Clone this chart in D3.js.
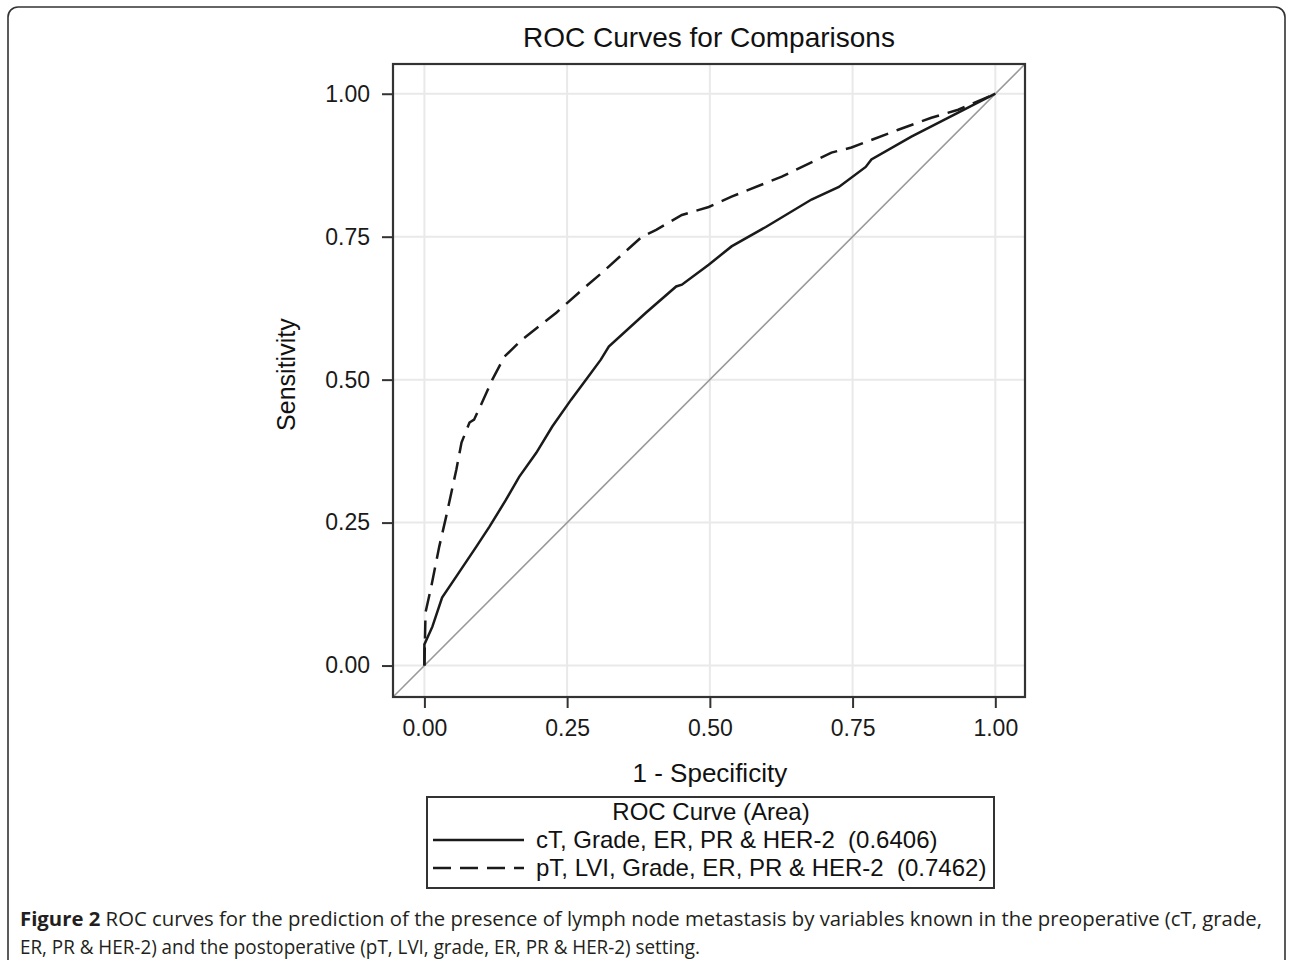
<!DOCTYPE html>
<html>
<head>
<meta charset="utf-8">
<script src="https://cdn.jsdelivr.net/npm/d3@7"></script>
<style>
  body { margin: 0; background: #fff; }
  svg { display: block; }
  .tick text { font-family: "Liberation Sans", Arial, sans-serif; fill: #1a1a1a; }
</style>
</head>
<body>
<div id="chart"></div>
<script>
// ROC curve points: [1 - specificity, sensitivity]
const preopCurve = [
  [0, 0], [0.0, 0.037], [0.014, 0.068], [0.031, 0.119], [0.056, 0.156],
  [0.091, 0.208], [0.114, 0.243], [0.143, 0.290], [0.166, 0.330], [0.196, 0.372],
  [0.224, 0.418], [0.257, 0.465], [0.283, 0.500], [0.309, 0.535], [0.323, 0.558],
  [0.388, 0.617], [0.441, 0.663], [0.451, 0.666], [0.498, 0.701], [0.538, 0.733],
  [0.598, 0.767], [0.678, 0.815], [0.726, 0.837], [0.773, 0.872], [0.783, 0.885],
  [0.853, 0.925], [0.935, 0.967], [1, 1]
];
const postopCurve = [
  [0, 0], [0.002, 0.093], [0.012, 0.138], [0.026, 0.208], [0.038, 0.260],
  [0.056, 0.343], [0.065, 0.390], [0.079, 0.425], [0.087, 0.430], [0.101, 0.460],
  [0.119, 0.500], [0.140, 0.540], [0.171, 0.570], [0.231, 0.617], [0.276, 0.657],
  [0.311, 0.687], [0.381, 0.750], [0.406, 0.762], [0.451, 0.788], [0.498, 0.802],
  [0.538, 0.820], [0.626, 0.855], [0.713, 0.897], [0.748, 0.906], [0.830, 0.937],
  [0.888, 0.958], [0.935, 0.972], [1, 1]
];
const tickValues = [0, 0.25, 0.5, 0.75, 1];
const legendLabels = [
  "cT, Grade, ER, PR & HER-2  (0.6406)",
  "pT, LVI, Grade, ER, PR & HER-2  (0.7462)"
];
const legendDash = [null, "18,9"];
const captionBold = "Figure 2";
const captionLine1 = " ROC curves for the prediction of the presence of lymph node metastasis by variables known in the preoperative (cT, grade,";
const captionLine2 = "ER, PR & HER-2) and the postoperative (pT, LVI, grade, ER, PR & HER-2) setting.";

const W = 1290, H = 960;
const frame = {left: 393, right: 1025, top: 64, bottom: 697};
const font = '"Liberation Sans", Arial, sans-serif';

const svg = d3.select('#chart').append('svg')
    .attr('width', W)
    .attr('height', H);

// outer figure border
svg.append('rect')
    .attr('x', 8).attr('y', 7)
    .attr('width', 1277).attr('height', 980)
    .attr('rx', 10).attr('ry', 10)
    .attr('fill', 'none')
    .attr('stroke', '#333')
    .attr('stroke-width', 1.6);

const x = d3.scaleLinear().domain([-0.055, 1.052]).range([frame.left, frame.right]);
const y = d3.scaleLinear().domain([-0.055, 1.052]).range([frame.bottom, frame.top]);

// grid
const grid = svg.append('g');
grid.selectAll('.gx')
    .data(tickValues)
    .enter().append('line')
    .attr('x1', d => x(d)).attr('x2', d => x(d))
    .attr('y1', frame.top).attr('y2', frame.bottom)
    .attr('stroke', '#e9e9e9').attr('stroke-width', 2);
grid.selectAll('.gy')
    .data(tickValues)
    .enter().append('line')
    .attr('y1', d => y(d)).attr('y2', d => y(d))
    .attr('x1', frame.left).attr('x2', frame.right)
    .attr('stroke', '#e9e9e9').attr('stroke-width', 2);

// chance diagonal, corner to corner
svg.append('line')
    .attr('x1', x(-0.055)).attr('y1', y(-0.055))
    .attr('x2', x(1.052)).attr('y2', y(1.052))
    .attr('stroke', '#999').attr('stroke-width', 1.6);

const line = d3.line().x(d => x(d[0])).y(d => y(d[1]));

svg.append('path')
    .datum(preopCurve)
    .attr('d', line)
    .attr('fill', 'none')
    .attr('stroke', '#1a1a1a')
    .attr('stroke-width', 2.5);

svg.append('path')
    .datum(postopCurve)
    .attr('d', line)
    .attr('fill', 'none')
    .attr('stroke', '#1a1a1a')
    .attr('stroke-width', 2.5)
    .attr('stroke-dasharray', legendDash[1]);

// frame
svg.append('rect')
    .attr('x', frame.left).attr('y', frame.top)
    .attr('width', frame.right - frame.left)
    .attr('height', frame.bottom - frame.top)
    .attr('fill', 'none')
    .attr('stroke', '#333')
    .attr('stroke-width', 2.2);

// axes
const xAxis = svg.append('g')
    .attr('transform', `translate(0,${frame.bottom})`)
    .call(d3.axisBottom(x).tickValues(tickValues).tickFormat(d3.format('.2f')).tickSize(11).tickPadding(12));
const yAxis = svg.append('g')
    .attr('transform', `translate(${frame.left},0)`)
    .call(d3.axisLeft(y).tickValues(tickValues).tickFormat(d3.format('.2f')).tickSize(11).tickPadding(12));
[xAxis, yAxis].forEach(a => {
    a.select('.domain').remove();
    a.selectAll('.tick line').attr('stroke', '#333').attr('stroke-width', 2);
    a.selectAll('.tick text').style('font-size', '23px');
});

// titles
svg.append('text')
    .attr('x', (frame.left + frame.right) / 2)
    .attr('y', 47)
    .attr('text-anchor', 'middle')
    .style('font-family', font)
    .style('font-size', '28px')
    .style('fill', '#111')
    .text('ROC Curves for Comparisons');

svg.append('text')
    .attr('x', x(0.5))
    .attr('y', 782)
    .attr('text-anchor', 'middle')
    .style('font-family', font)
    .style('font-size', '26px')
    .style('fill', '#111')
    .text('1 - Specificity');

svg.append('text')
    .attr('transform', `translate(295,${y(0.5) - 5}) rotate(-90)`)
    .attr('text-anchor', 'middle')
    .style('font-family', font)
    .style('font-size', '25px')
    .style('fill', '#111')
    .text('Sensitivity');

// legend
const legend = svg.append('g');
legend.append('rect')
    .attr('x', 427).attr('y', 797)
    .attr('width', 567).attr('height', 91)
    .attr('fill', 'none')
    .attr('stroke', '#333')
    .attr('stroke-width', 2);
legend.append('text')
    .attr('x', 711).attr('y', 820)
    .attr('text-anchor', 'middle')
    .style('font-family', font)
    .style('font-size', '24px')
    .style('fill', '#111')
    .text('ROC Curve (Area)');

const rows = legend.selectAll('.row')
    .data(legendLabels)
    .enter().append('g')
    .attr('transform', (d, i) => `translate(0,${848 + i * 28})`);
rows.append('line')
    .attr('x1', 433).attr('x2', 524)
    .attr('y1', -8).attr('y2', -8)
    .attr('stroke', '#1a1a1a')
    .attr('stroke-width', 2.4)
    .attr('stroke-dasharray', (d, i) => legendDash[i]);
rows.append('text')
    .attr('x', 536).attr('y', 0)
    .style('font-family', font)
    .style('font-size', '24px')
    .style('fill', '#111')
    .style('white-space', 'pre')
    .attr('xml:space', 'preserve')
    .text(d => d);

// caption
const capFont = '"Open Sans", "Noto Sans", sans-serif';
const cap1 = svg.append('text')
    .attr('x', 20).attr('y', 926)
    .attr('textLength', 1242)
    .attr('lengthAdjust', 'spacingAndGlyphs')
    .attr('xml:space', 'preserve')
    .style('font-family', capFont)
    .style('font-size', '20px')
    .style('fill', '#231f20');
cap1.append('tspan').style('font-weight', 'bold').text(captionBold);
cap1.append('tspan').text(captionLine1);

svg.append('text')
    .attr('x', 20).attr('y', 954)
    .attr('textLength', 680)
    .attr('lengthAdjust', 'spacingAndGlyphs')
    .style('font-family', capFont)
    .style('font-size', '20px')
    .style('fill', '#231f20')
    .text(captionLine2);
</script>
</body>
</html>
